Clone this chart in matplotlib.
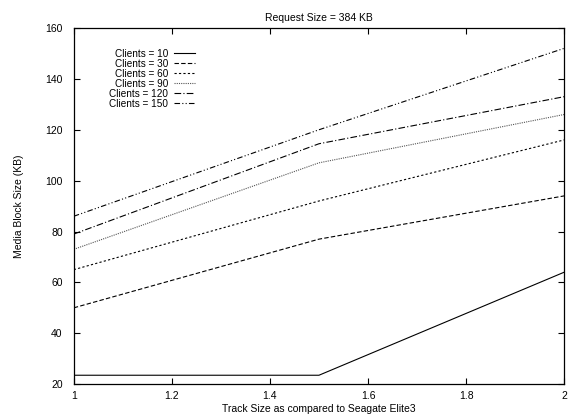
import matplotlib
matplotlib.use("Agg")
import matplotlib.pyplot as plt

track_size = [1.0, 1.5, 2.0]
clients = ["10", "30", "60", "90", "120", "150"]
block_size = {
    "10": [23.5, 23.5, 64],
    "30": [50, 77, 94],
    "60": [65, 92, 116],
    "90": [73, 107, 126],
    "120": [79, 114.5, 133],
    "150": [86, 120, 152],
}
x_ticks = [1, 1.2, 1.4, 1.6, 1.8, 2]
x_tick_labels = ["1", "1.2", "1.4", "1.6", "1.8", "2"]
y_ticks = [20, 40, 60, 80, 100, 120, 140, 160]

styles = {
    "10": dict(linestyle="-", color="black"),
    "30": dict(linestyle=(0, (4, 2)), color="black"),
    "60": dict(linestyle=(0, (2, 2)), color="black"),
    "90": dict(linestyle=(0, (1, 1)), color="#555555"),
    "120": dict(linestyle=(0, (6, 2, 1, 2)), color="black"),
    "150": dict(linestyle=(0, (5, 2, 1, 2, 1, 2)), color="black"),
}

plt.rcParams["font.family"] = ["Liberation Sans", "DejaVu Sans"]
fig = plt.figure(figsize=(5.81, 4.18), dpi=100)
ax = fig.add_axes([0.127, 0.081, 0.844, 0.852])

for c in clients:
    ax.plot(track_size, block_size[c], linewidth=0.8,
            label=f"Clients = {c}", **styles[c])

ax.set_xlim(1, 2)
ax.set_ylim(20, 160)
ax.set_xticks(x_ticks)
ax.set_xticklabels(x_tick_labels)
ax.set_yticks(y_ticks)
ax.tick_params(direction="in", length=4, width=0.8, top=True, right=True,
               labelsize=7.5)
ax.tick_params(axis="y", pad=8)
ax.tick_params(axis="x", pad=5)
for s in ax.spines.values():
    s.set_linewidth(0.9)

ax.set_title("Request Size = 384 KB", fontsize=7.5, pad=5)
ax.set_xlabel("Track Size as compared to Seagate Elite3", fontsize=7.5, labelpad=2)
ax.set_ylabel("Media Block Size (KB)", fontsize=7.5, labelpad=15)

leg = ax.legend(loc="upper right", bbox_to_anchor=(0.262, 0.962), frameon=False,
                markerfirst=False, fontsize=7.2, handlelength=2.1,
                labelspacing=0.0, handletextpad=0.6, borderpad=0.2)
for t in leg.get_texts():
    t.set_ha("right")
leg._legend_box.align = "right"

fig.savefig("out.png", dpi=100)
